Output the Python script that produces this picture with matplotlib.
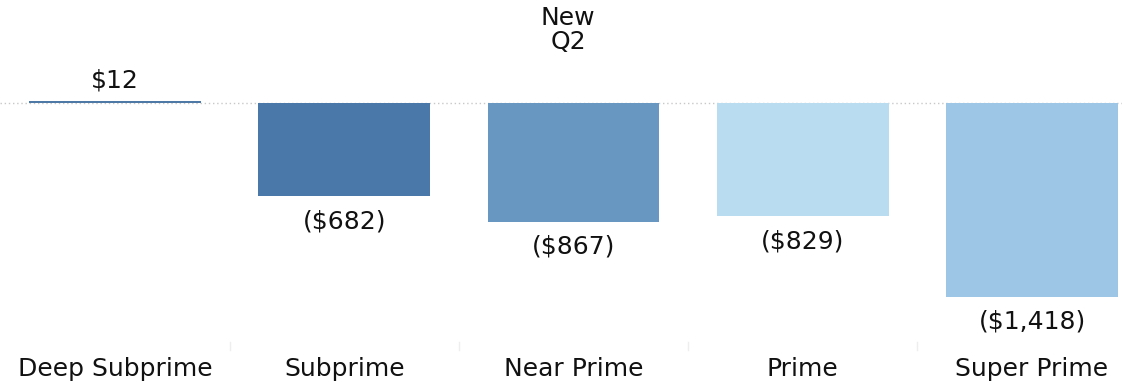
import matplotlib
matplotlib.use("Agg")
import matplotlib.pyplot as plt
from matplotlib.transforms import blended_transform_factory

categories = ["Deep Subprime", "Subprime", "Near Prime", "Prime", "Super Prime"]
values = [12, -682, -867, -829, -1418]
labels = ["$12", "($682)", "($867)", "($829)", "($1,418)"]
colors = ["#4e79a7", "#4a78a8", "#6898c2", "#badcf0", "#9dc6e6"]
header = "New\nQ2"

plt.rcParams['font.family'] = ['DejaVu Sans']

W, H = 1122, 383
fig = plt.figure(figsize=(W / 100, H / 100), dpi=100)
ax = fig.add_axes([0, 0, 1, 1])

px_per_unit = 0.1368
zero_px = 103
ax.set_ylim(-(H - zero_px) / px_per_unit, zero_px / px_per_unit)
step = 229.25
left = -0.5 - (0.4 / step)
ax.set_xlim(left, left + W / step)

x = list(range(len(categories)))
ax.bar(x, values, width=0.75, color=colors, zorder=2)
ax.axhline(0, color="#c8c8c8", lw=1, ls=(0, (1, 2)), zorder=1)

FS = 18
for xi, v, lab in zip(x, values, labels):
    if v >= 0:
        ax.annotate(lab, (xi, v), xytext=(0, 15), textcoords="offset points",
                    ha="center", va="center", fontsize=FS, color="#111111")
    else:
        ax.annotate(lab, (xi, v), xytext=(0, -18), textcoords="offset points",
                    ha="center", va="center", fontsize=FS, color="#111111")

tr = blended_transform_factory(ax.transData, ax.transAxes)
for xi, c in zip(x, categories):
    ax.text(xi, 1 - 369 / H, c, transform=tr, ha="center", va="center",
            fontsize=FS, color="#111111")
    ax.plot([xi + 0.5, xi + 0.5], [1 - 342 / H, 1 - 350 / H], transform=tr,
            color="#eeeeee", lw=1)

ax.text(568 / W, 1 - 30 / H, header, transform=ax.transAxes, ha="center",
        va="center", fontsize=FS, color="#111111", linespacing=1.05)

ax.axis("off")
fig.savefig("out.png", dpi=100)
